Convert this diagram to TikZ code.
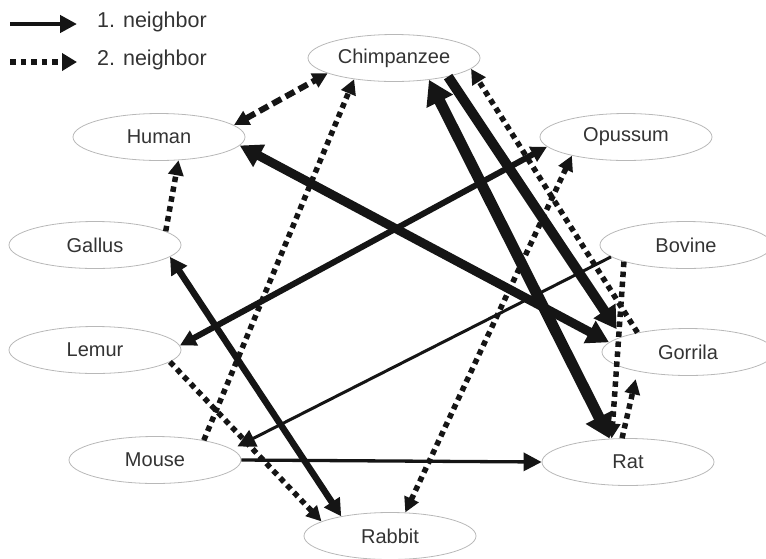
\documentclass[tikz,border=0pt]{standalone}
\usepackage{fontspec}
\setmainfont{Liberation Sans}
\usetikzlibrary{arrows.meta,shapes.geometric}
\definecolor{ink}{HTML}{151515}
\definecolor{txt}{HTML}{333333}
\definecolor{rim}{HTML}{B8B8B8}
\begin{document}
\begin{tikzpicture}[x=1pt,y=-1pt,
  animal/.style={ellipse,draw=rim,line width=0.8pt,minimum width=172pt,minimum height=47pt,inner sep=0pt,text=txt,font=\fontsize{20}{24}\selectfont},
  legtext/.style={anchor=west,inner sep=0pt,text=txt,font=\fontsize{21.5}{26}\selectfont},
  solidedge/.style={draw=ink,line width=#1},
  dotedge/.style={draw=ink,line width=5.5pt,dash pattern=on 5.5pt off 4.5pt},
  dashedge/.style={draw=ink,line width=6pt,dash pattern=on 10pt off 5pt},
  dothead/.style={arrows={-{Triangle[length=15pt,width=15pt]}}},
  dotboth/.style={arrows={{Triangle[length=15pt,width=15pt]}-{Triangle[length=15pt,width=15pt]}}},
]
\useasboundingbox (0,0) rectangle (766,558);

% nodes
\node[animal] (chimp) at (394,58) {Chimpanzee};
\node[animal] (human) at (159,137) {Human};
\node[animal] (opus) at (626,137) {Opussum};
\node[animal] (gallus) at (95,245) {Gallus};
\node[animal] (bovine) at (686,245) {Bovine};
\node[animal] (lemur) at (95,350) {Lemur};
\node[animal] (gorr) at (688,352) {Gorrila};
\node[animal] (mouse) at (155,460) {Mouse};
\node[animal] (rat) at (628,462) {Rat};
\node[animal] (rabbit) at (390,536) {Rabbit};

% legend
\coordinate (l1a) at (10,24);
\coordinate (l1b) at (77,24);
\coordinate (l2a) at (10,62);
\coordinate (l2b) at (77,62);
\draw[solidedge=4.5pt,arrows={-{Triangle[length=17pt,width=17pt]}}] (l1a) -- (l1b);
\draw[draw=ink,line width=5.5pt,dash pattern=on 5.5pt off 5pt,arrows={-{Triangle[length=15pt,width=17pt]}}] (l2a) -- (l2b);
\node[legtext] (leg1) at (97,22) {1. neighbor};
\node[legtext] (leg2) at (97,60) {2. neighbor};

% second neighbors (dotted)
\draw[dashedge,dotboth] (human.9) -- (chimp.193);
\draw[dotedge,dothead] (gallus.11) -- (human.-50);
\draw[dotedge,dothead] (mouse.22) -- (chimp.208);
\draw[dotedge,dothead] (lemur.-9) -- (rabbit.168);
\draw[dotedge,dotboth] (rabbit.57) -- (opus.199);
\draw[dotedge,dothead] (gorr.159) -- (chimp.-8);
\draw[dotedge,dothead] (bovine.195) -- (rat.125);
\draw[dotedge,dothead,shorten >=8pt] (rat.104) -- (gorr.201);

% first neighbors (solid)
\draw[solidedge=3.3pt,arrows={-{Triangle[length=18pt,width=18pt]}}] (mouse.east) -- (rat.west);
\draw[solidedge=3pt,arrows={-{Triangle[length=18pt,width=18pt]}},shorten >=6pt] (bovine.189) -- (mouse.8);
\draw[solidedge=6.5pt,arrows={{Triangle[length=17pt,width=18pt]}-{Triangle[length=17pt,width=18pt]}}] (gallus.-9) -- (rabbit.158);
\draw[solidedge=6pt,arrows={{Triangle[length=16pt,width=16pt]}-{Triangle[length=16pt,width=16pt]}}] (opus.187) -- (lemur.3);
\draw[solidedge=9pt,arrows={{Triangle[length=22pt,width=24pt]}-{Triangle[length=22pt,width=24pt]}}] (human.-6) -- (gorr.173);
\draw[solidedge=11pt,arrows={{Triangle[length=24pt,width=28pt]}-{Triangle[length=24pt,width=28pt]}}] (chimp.-32) -- (rat.128);
\draw[solidedge=10pt,arrows={-{Triangle[length=22pt,width=25pt]}},shorten >=9pt] (chimp.-19) -- (gorr.167);
\end{tikzpicture}
\end{document}
